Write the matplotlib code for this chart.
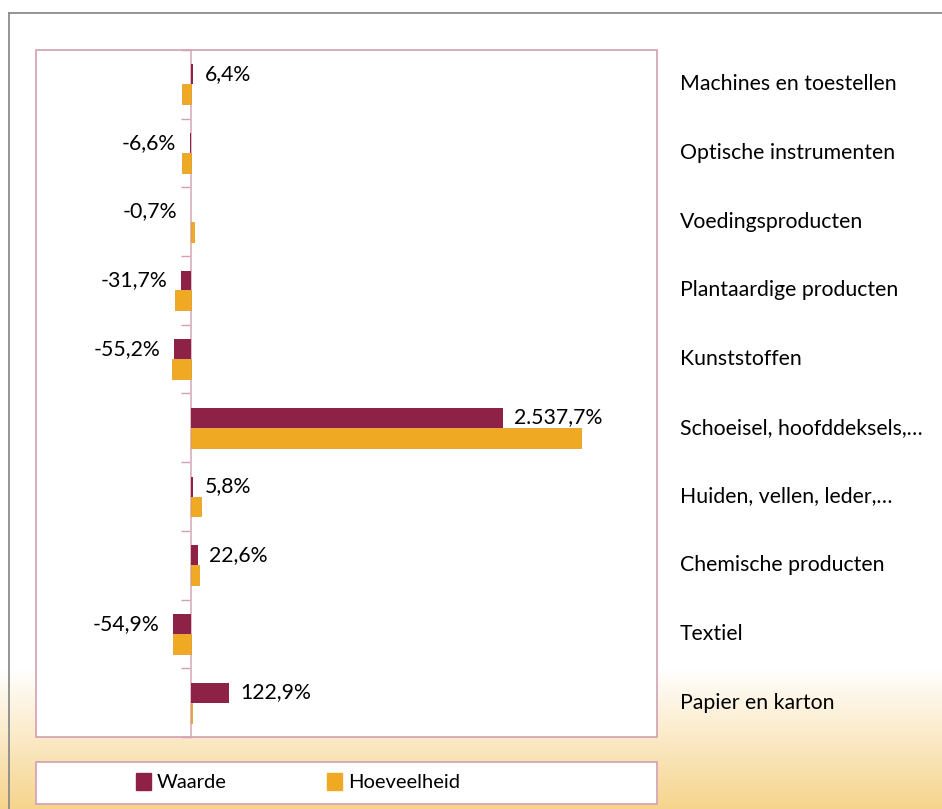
import numpy as np
import matplotlib
matplotlib.use("Agg")
import matplotlib.pyplot as plt
from matplotlib.patches import Rectangle
from matplotlib.lines import Line2D

plt.rcParams['font.family'] = ['Lato', 'DejaVu Sans']

categories = ["Machines en toestellen", "Optische instrumenten", "Voedingsproducten",
              "Plantaardige producten", "Kunststoffen", "Schoeisel, hoofddeksels,\u2026",
              "Huiden, vellen, leder,\u2026", "Chemische producten", "Textiel", "Papier en karton"]
waarde = [13, -10, -2, -65, -110, 2006, 13, 45, -116, 245]
hoeveelheid = [-58, -58, 19, -103, -123, 2510, 65, 52, -116, 6]
labels = ["6,4%", "-6,6%", "-0,7%", "-31,7%", "-55,2%", "2.537,7%", "5,8%", "22,6%", "-54,9%", "122,9%"]
series_names = ["Waarde", "Hoeveelheid"]

W, H = 942, 809
fig = plt.figure(figsize=(W / 100, H / 100), dpi=100)

def fx(px):
    return px / W

def fy(py):
    return 1 - py / H

# background gradient
bg = fig.add_axes([0, 0, 1, 1], zorder=-10)
rows = np.arange(H)
t = np.clip((rows - 668) / (H - 668), 0, 1)
top = np.array([1.0, 1.0, 1.0])
bot = np.array([246, 212, 140]) / 255
img = (1 - t)[:, None] * top + t[:, None] * bot
img = np.repeat(img[:, None, :], 4, axis=1)
bg.imshow(img, aspect='auto', extent=[0, 1, 0, 1], origin='upper')
bg.set_xlim(0, 1)
bg.set_ylim(0, 1)
bg.axis('off')
# gray outer border
bg.add_line(Line2D([fx(8.5), 1], [fy(12.5), fy(12.5)], color='#8c8c8c', lw=1.3))
bg.add_line(Line2D([fx(8.5), fx(8.5)], [fy(12.5), 0], color='#8c8c8c', lw=1.3))

col_w = '#8e2246'
col_h = '#f0a922'
border = '#d2a0b4'

ax = fig.add_axes([fx(36), fy(737), fx(657) - fx(36), fy(50) - fy(737)])
ax.set_facecolor('white')
y = np.arange(len(categories))
bh = 0.29
ax.barh(y - 0.145, waarde, height=bh, color=col_w, zorder=3)
ax.barh(y + 0.145, hoeveelheid, height=bh, color=col_h, edgecolor='#e3a02a', linewidth=0.6, zorder=3)
ax.set_xlim(-1000, 3000)
ax.set_ylim(len(categories) - 0.5, -0.5)

for s in ['top', 'right', 'bottom']:
    ax.spines[s].set_visible(False)
ax.spines['left'].set_position(('data', 0))
ax.spines['left'].set_color('#dcb4c4')
ax.spines['left'].set_linewidth(1.3)
ax.set_xticks([])
ax.set_yticks(np.arange(-0.5, len(categories) + 0.5, 1))
ax.set_yticklabels([])
ax.tick_params(axis='y', direction='out', length=7, color='#d2a0b4', width=1.0)
ax.add_patch(Rectangle((0, 0), 1, 1, transform=ax.transAxes, fill=False,
                       edgecolor=border, lw=1.2, zorder=5, clip_on=False))

fs = 15.3
trans = matplotlib.transforms.blended_transform_factory(ax.transAxes, ax.transData)
for i, cat in enumerate(categories):
    ax.text((680 - 36) / 621, i, cat, transform=trans, ha='left', va='center',
            fontsize=fs, color='#000000', clip_on=False)

for i, (v, lab) in enumerate(zip(waarde, labels)):
    if v >= 0:
        ax.annotate(lab, (v, i - 0.15), xytext=(8, 0), textcoords='offset points',
                    ha='left', va='center', fontsize=fs, zorder=6)
    else:
        ax.annotate(lab, (v, i - 0.15), xytext=(-10, 0), textcoords='offset points',
                    ha='right', va='center', fontsize=fs, zorder=6)

# legend box
fig.patches.append(Rectangle((fx(36), fy(804)), fx(657) - fx(36), fy(762) - fy(804),
                             transform=fig.transFigure, facecolor='white',
                             edgecolor=border, lw=1.2, zorder=1))
handles = [Rectangle((0, 0), 1, 1, color=col_w), Rectangle((0, 0), 1, 1, color=col_h)]
fig.legend(handles, series_names, loc='center', ncol=2, frameon=False,
           bbox_to_anchor=(fx(298), fy(782)), fontsize=14.5,
           handlelength=0.75, handleheight=0.95, handletextpad=0.3, columnspacing=5.0)

fig.savefig('out.png', dpi=100)
